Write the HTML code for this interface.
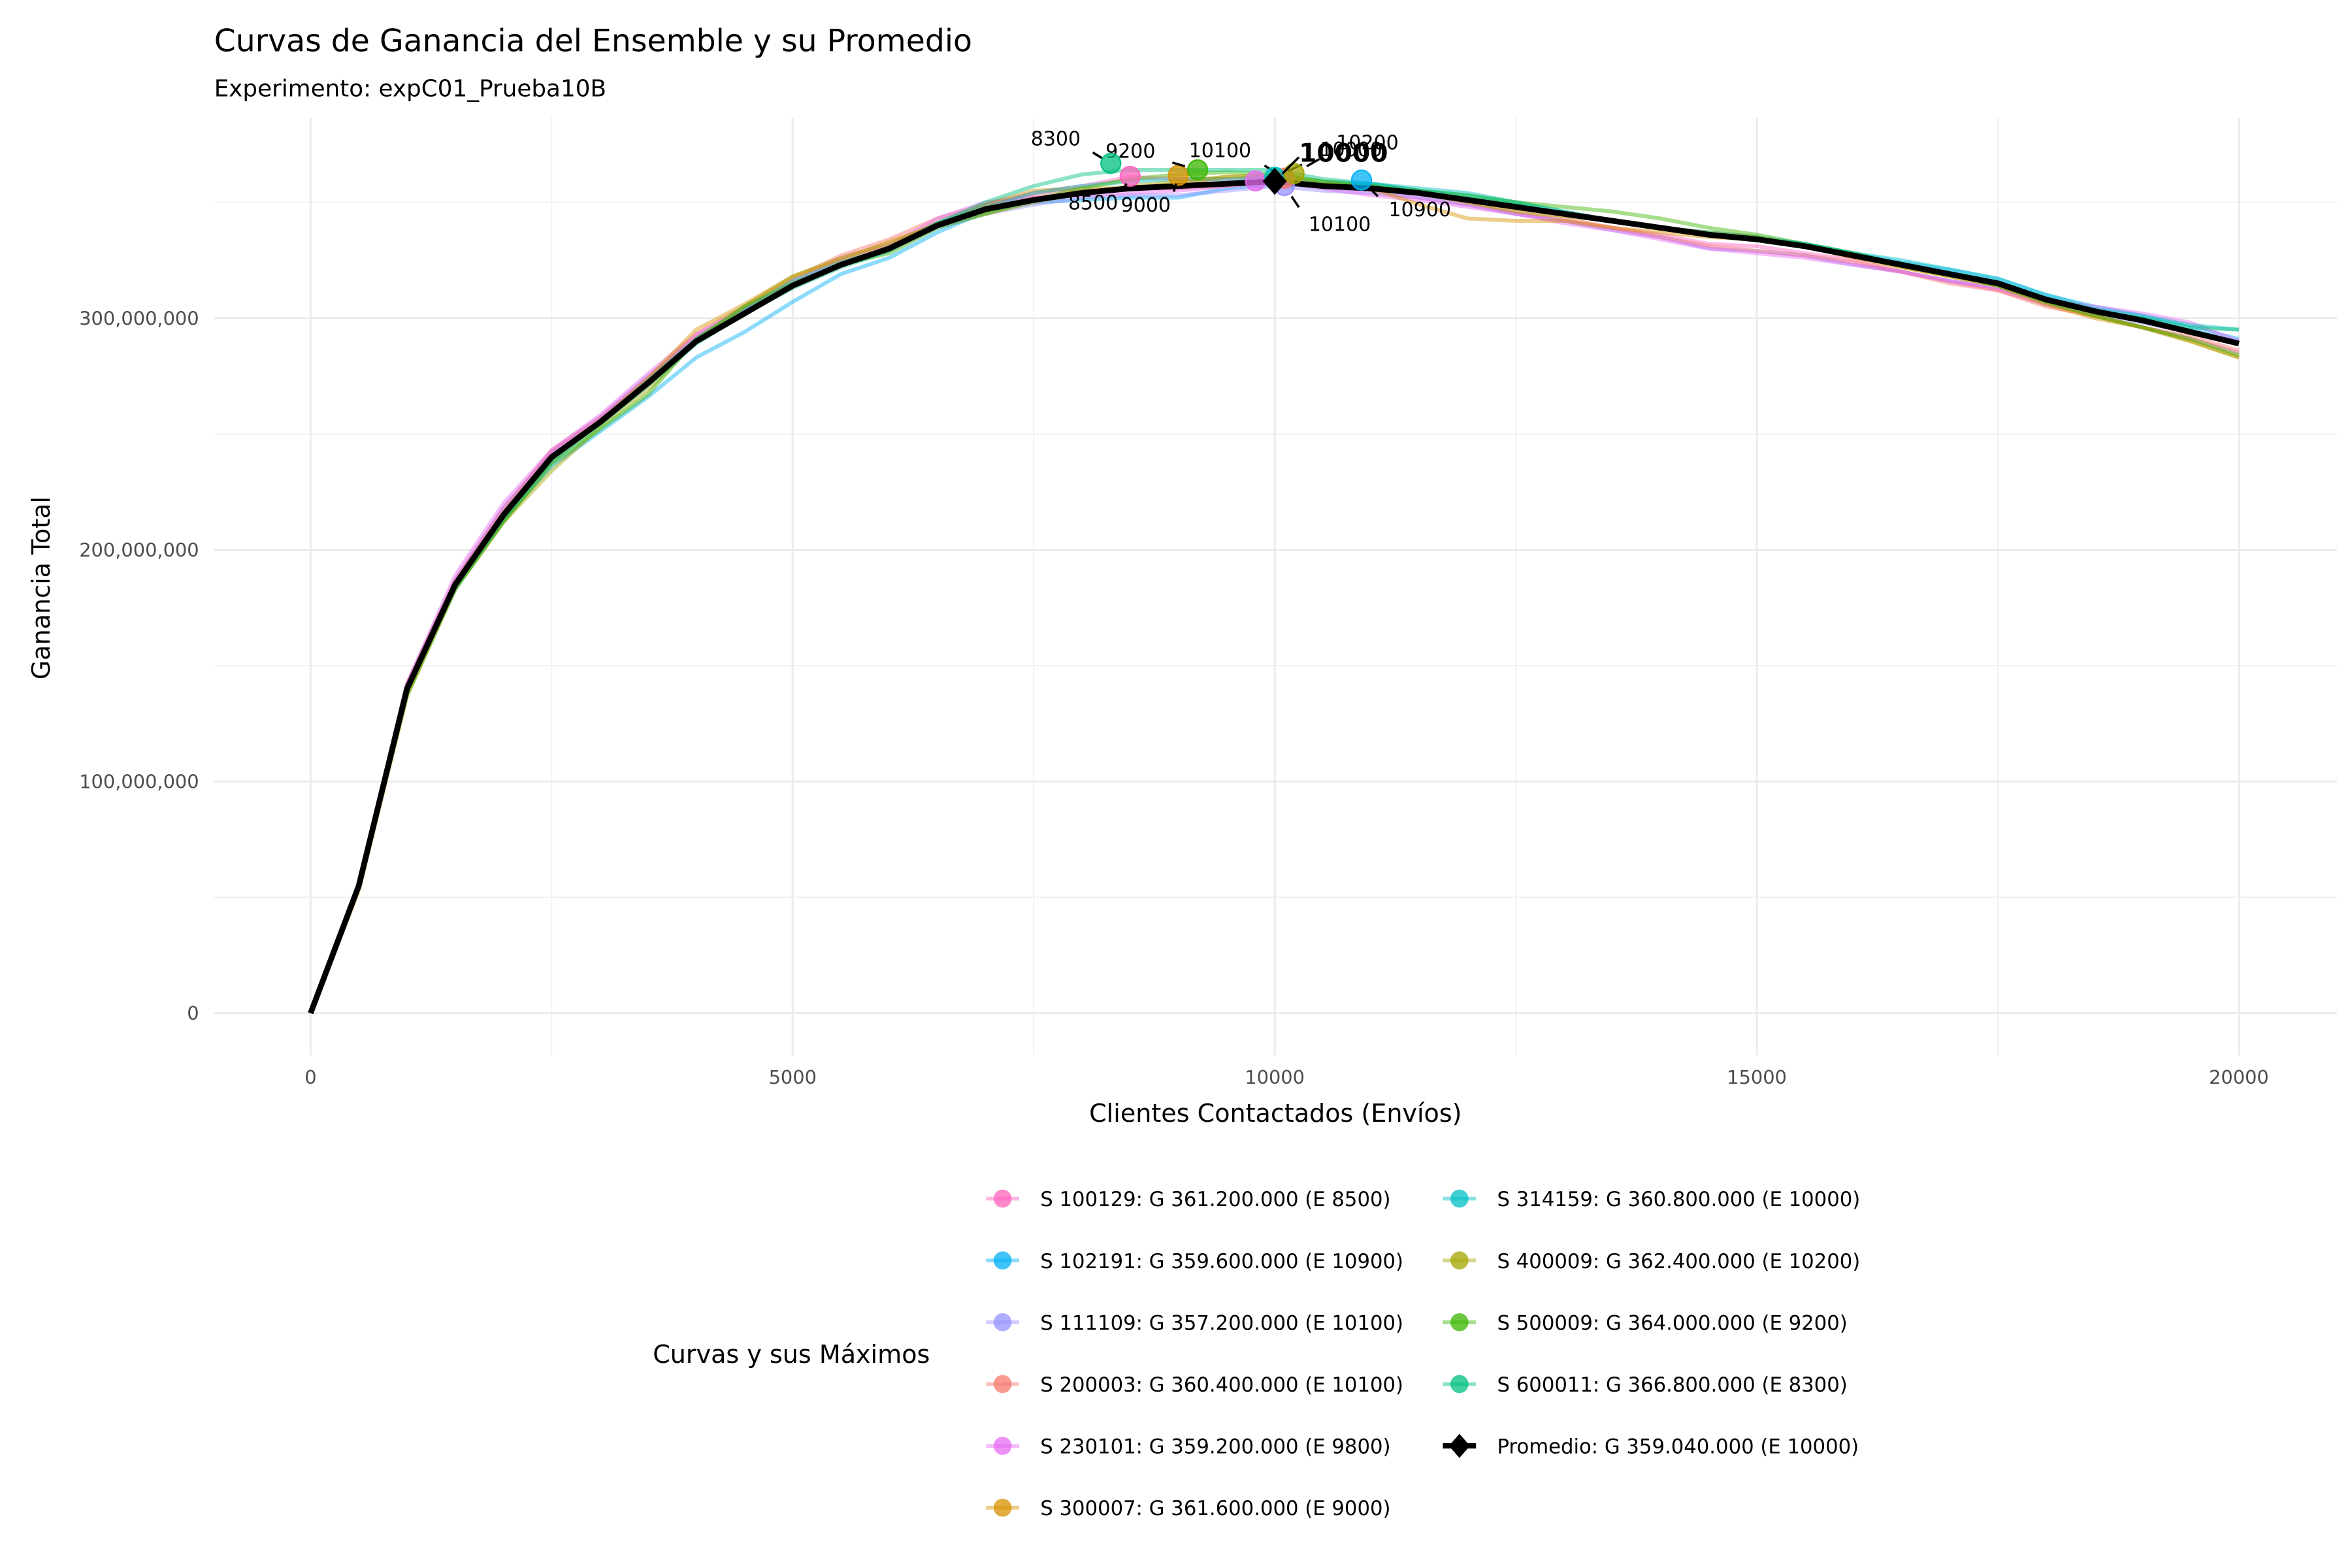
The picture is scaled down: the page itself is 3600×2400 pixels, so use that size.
<!DOCTYPE html>
<html><head><meta charset="utf-8"><style>
html,body{margin:0;padding:0;background:#fff;}
svg{display:block;font-family:"DejaVu Sans","Liberation Sans",sans-serif;}
</style></head><body>
<svg id="chart" width="3600" height="2400" viewBox="0 0 1560 1040" xmlns="http://www.w3.org/2000/svg">
<rect x="0" y="0" width="1560" height="1040" fill="#fff"/>
<text x="142" y="34" font-size="20.5" fill="#000">Curvas de Ganancia del Ensemble y su Promedio</text>
<text x="142" y="64" font-size="15.5" fill="#000">Experimento: expC01_Prueba10B</text>
<g id="grid"></g>
<g id="series"></g>
<g id="peaks"></g>
<g id="axes"></g>
<text x="846" y="744" font-size="16.5" text-anchor="middle">Clientes Contactados (Envíos)</text>
<text transform="translate(33,390) rotate(-90)" font-size="16.5" text-anchor="middle">Ganancia Total</text>
<text x="433" y="904" font-size="16.5">Curvas y sus Máximos</text>
<g id="legend"></g>
</svg>
<script>
const xs = [0,500,1000,1500,2000,2500,3000,3500,4000,4500,5000,5500,6000,6500,7000,7500,8000,8500,9000,9500,10000,10500,11000,11500,12000,12500,13000,13500,14000,14500,15000,15500,16000,16500,17000,17500,18000,18500,19000,19500,20000];
const meanVals = [0,55,140,185,215,240,255,272,290,302,314,323,330,340,347,351,354,356,357,358,359,357,356,354,351,348,345,342,339,336,334,331,327,323,319,315,308,303,299,294,289];
const seeds = ["100129","102191","111109","200003","230101","300007","314159","400009","500009","600011"];
const colors = ["#FF62BC","#00B0F6","#9590FF","#F8766D","#E76BF3","#D89000","#00BFC4","#A3A500","#39B600","#00BF7D"];
const off100129 = [0,0,2,1,3,2,1,2,2,1,2,3,2,1,2,3,3,5,3,2,1,0,-1,-2,-2,-3,-3,-3,-3,-4,-3,-3,-2,-3,-3,-3,-2,-2,-3,-3,-4];
const off102191 = [0,1,1,-2,-2,-4,-4,-6,-7,-8,-7,-4,-4,-3,-1,-1,-3,-4,-5,-2,-1,0,2,1,1,1,0,0,0,1,1,1,1,1,2,2,2,2,2,2,2];
const off111109 = [0,1,2,2,3,2,2,3,1,1,0,0,-1,-1,-2,-2,-2,-3,-4,-3,-2,-2,-2,-2,-2,-3,-3,-4,-4,-6,-5,-4,-4,-3,-3,-2,-2,-1,-1,0,1];
const off200003 = [0,0,2,2,2,3,2,2,3,3,3,4,4,3,2,2,1,0,-1,-1,0,1,1,0,-1,-2,-2,-3,-4,-5,-5,-4,-3,-3,-4,-3,-3,-2,-3,-2,-3];
const off230101 = [0,1,2,4,5,3,3,4,3,2,1,2,1,3,3,1,-1,-2,-2,-1,0,-1,-3,-3,-3,-3,-4,-4,-5,-6,-6,-5,-4,-3,-3,-2,0,2,3,4,1];
const off300007 = [0,-2,-3,-1,-3,-2,0,2,5,4,4,2,3,0,2,4,2,0,1,3,2,1,0,-5,-8,-6,-3,-3,-2,-1,0,0,-1,-1,-1,-1,-2,-3,-3,-4,-6];
const off314159 = [0,0,1,0,-1,-1,0,1,1,2,2,1,0,1,1,3,3,3,3,2,2,2,2,2,3,2,1,0,0,1,1,1,1,2,2,2,2,1,2,3,6];
const off400009 = [0,0,-2,-2,-3,-6,-2,-3,0,3,4,3,2,1,-2,-1,0,1,2,3,3,2,1,0,-1,-2,-1,0,0,1,1,0,0,-1,-1,-1,-1,-2,-3,-4,-6];
const off500009 = [0,0,-3,-2,-3,-3,-3,-5,1,3,1,0,-2,-1,-2,0,2,4,5,5,3,2,1,1,2,2,3,4,4,3,2,1,1,0,0,-1,-1,-2,-3,-3,-5];
const off600011 = [0,0,-1,-1,-2,-2,-1,-1,-1,0,-1,-1,-1,1,3,6,8,8,7,6,5,3,2,1,2,2,1,0,0,0,0,1,1,0,0,0,0,0,1,2,6];
const offsets = [off100129,off102191,off111109,off200003,off230101,off300007,off314159,off400009,off500009,off600011];
const peakX = [8500,10900,10100,10100,9800,9000,10000,10200,9200,8300];
const peakG = [361.2,359.6,357.2,360.4,359.2,361.6,360.8,362.4,364.0,366.8];
const meanPeakX = 10000;
const meanPeakG = 359.04;
const xTicks = [0,5000,10000,15000,20000];
const yTicks = [0,100,200,300];
const yTickLabels = ["0","100,000,000","200,000,000","300,000,000"];
const legendLabels = ["S 100129: G 361.200.000 (E 8500)","S 102191: G 359.600.000 (E 10900)","S 111109: G 357.200.000 (E 10100)","S 200003: G 360.400.000 (E 10100)","S 230101: G 359.200.000 (E 9800)","S 300007: G 361.600.000 (E 9000)","S 314159: G 360.800.000 (E 10000)","S 400009: G 362.400.000 (E 10200)","S 500009: G 364.000.000 (E 9200)","S 600011: G 366.800.000 (E 8300)"];
const meanLegendLabel = "Promedio: G 359.040.000 (E 10000)";

const NS="http://www.w3.org/2000/svg";
const X = v => 206 + v*(1279/20000);
const Y = v => 672 - v*1.5367;
function mk(tag, parent, attrs){const e=document.createElementNS(NS,tag);for(const k in attrs)e.setAttribute(k,attrs[k]);parent.appendChild(e);return e;}
const grid=document.getElementById('grid'), axes=document.getElementById('axes');
for(let v=2500; v<=20000; v+=5000){const l=mk('line',grid,{x1:X(v),x2:X(v),y1:78,y2:700,stroke:'#f0f0f0','stroke-width':0.8});

}
for(let v=50; v<=350; v+=100){const l=mk('line',grid,{x1:142,x2:1550,y1:Y(v),y2:Y(v),stroke:'#f0f0f0','stroke-width':0.8});

}
xTicks.forEach(v=>{const l=mk('line',grid,{x1:X(v),x2:X(v),y1:78,y2:700,stroke:'#ebebeb','stroke-width':1.3});


const t=mk('text',axes,{x:X(v),y:719,'font-size':12.5,fill:'#4d4d4d','text-anchor':'middle'});t.textContent=String(v);

});
yTicks.forEach((v,i)=>{const l=mk('line',grid,{x1:142,x2:1550,y1:Y(v),y2:Y(v),stroke:'#ebebeb','stroke-width':1.3});


const t=mk('text',axes,{x:132,y:Y(v)+4.5,'font-size':12.5,fill:'#4d4d4d','text-anchor':'end'});t.textContent=yTickLabels[i];

});
const sg=document.getElementById('series');
seeds.forEach((s,i)=>{
 const pts=xs.map((x,j)=>X(x)+','+Y(meanVals[j]+offsets[i][j])).join(' ');
 const p=mk('polyline',sg,{points:pts,fill:'none',stroke:colors[i],'stroke-width':2.6,'stroke-opacity':0.45,'stroke-linejoin':'round'});
 
 
});
const mp=mk('polyline',sg,{points:xs.map((x,j)=>X(x)+','+Y(meanVals[j])).join(' '),fill:'none',stroke:'#000','stroke-width':3.8,'stroke-linejoin':'round'});


const pg=document.getElementById('peaks');
const lab=[[-8,16,-1],[18,18,-1],[16,24,1],[-22,-14,-1],[0,0,0],[-5,18,1],[30,-14,1],[28,-16,1],[-28,-8,-1],[-20,-12,-1]];
seeds.forEach((s,i)=>{
 const cx=X(peakX[i]), cy=Y(peakG[i]);
 const c=mk('circle',pg,{cx:cx,cy:cy,r:6.5,fill:colors[i],'fill-opacity':0.75,stroke:colors[i],'stroke-opacity':0.9,'stroke-width':1});
 
 
 const o=lab[i]; if(o[2]===0) return;
 const tx=cx+o[0], ty=cy+o[1];
 const ln=mk('line',pg,{x1:cx+o[0]*0.3,y1:cy+o[1]*0.3,x2:cx+o[0]*0.6,y2:cy+o[1]*0.6,stroke:'#000','stroke-width':1.5});
 
 
 const t=mk('text',pg,{x:tx,y:ty+(o[1]>0?6:0),'font-size':13,'text-anchor':o[0]<0?'end':'start'});
 t.textContent=String(peakX[i]);
 
 
});
const mx=X(meanPeakX), my=Y(meanPeakG);
const dm=mk('polygon',pg,{points:`${mx},${my-9} ${mx+8},${my} ${mx},${my+9} ${mx-8},${my}`,fill:'#000'});


const ml=mk('line',pg,{x1:mx+5,y1:my-5,x2:mx+16,y2:my-16,stroke:'#000','stroke-width':1.5});


const mt=mk('text',pg,{x:mx+16,y:my-13,'font-size':17,'font-weight':'bold'});mt.textContent=String(meanPeakX);


const lg=document.getElementById('legend');
const items=legendLabels.map((l,i)=>({l:l,c:colors[i]}));
items.forEach((it,i)=>{
 const col=i<6?0:1, row=i<6?i:i-6;
 const kx=col?968:665, ky=795+row*41;
 const l=mk('line',lg,{x1:kx-11,x2:kx+11,y1:ky,y2:ky,stroke:it.c,'stroke-opacity':0.45,'stroke-width':2.5});
 
 
 const c=mk('circle',lg,{cx:kx,cy:ky,r:6,fill:it.c,'fill-opacity':0.75});
 
 
 const t=mk('text',lg,{x:kx+25,y:ky+5,'font-size':13.3});t.textContent=it.l;
 
 
});
{const kx=968, ky=795+4*41;
 const l=mk('line',lg,{x1:kx-11,x2:kx+11,y1:ky,y2:ky,stroke:'#000','stroke-width':3.5});
 
 
 const d=mk('polygon',lg,{points:`${kx},${ky-8} ${kx+7},${ky} ${kx},${ky+8} ${kx-7},${ky}`,fill:'#000'});
 
 
 const t=mk('text',lg,{x:kx+25,y:ky+5,'font-size':13.3});t.textContent=meanLegendLabel;
 
 }
</script>
</body></html>
